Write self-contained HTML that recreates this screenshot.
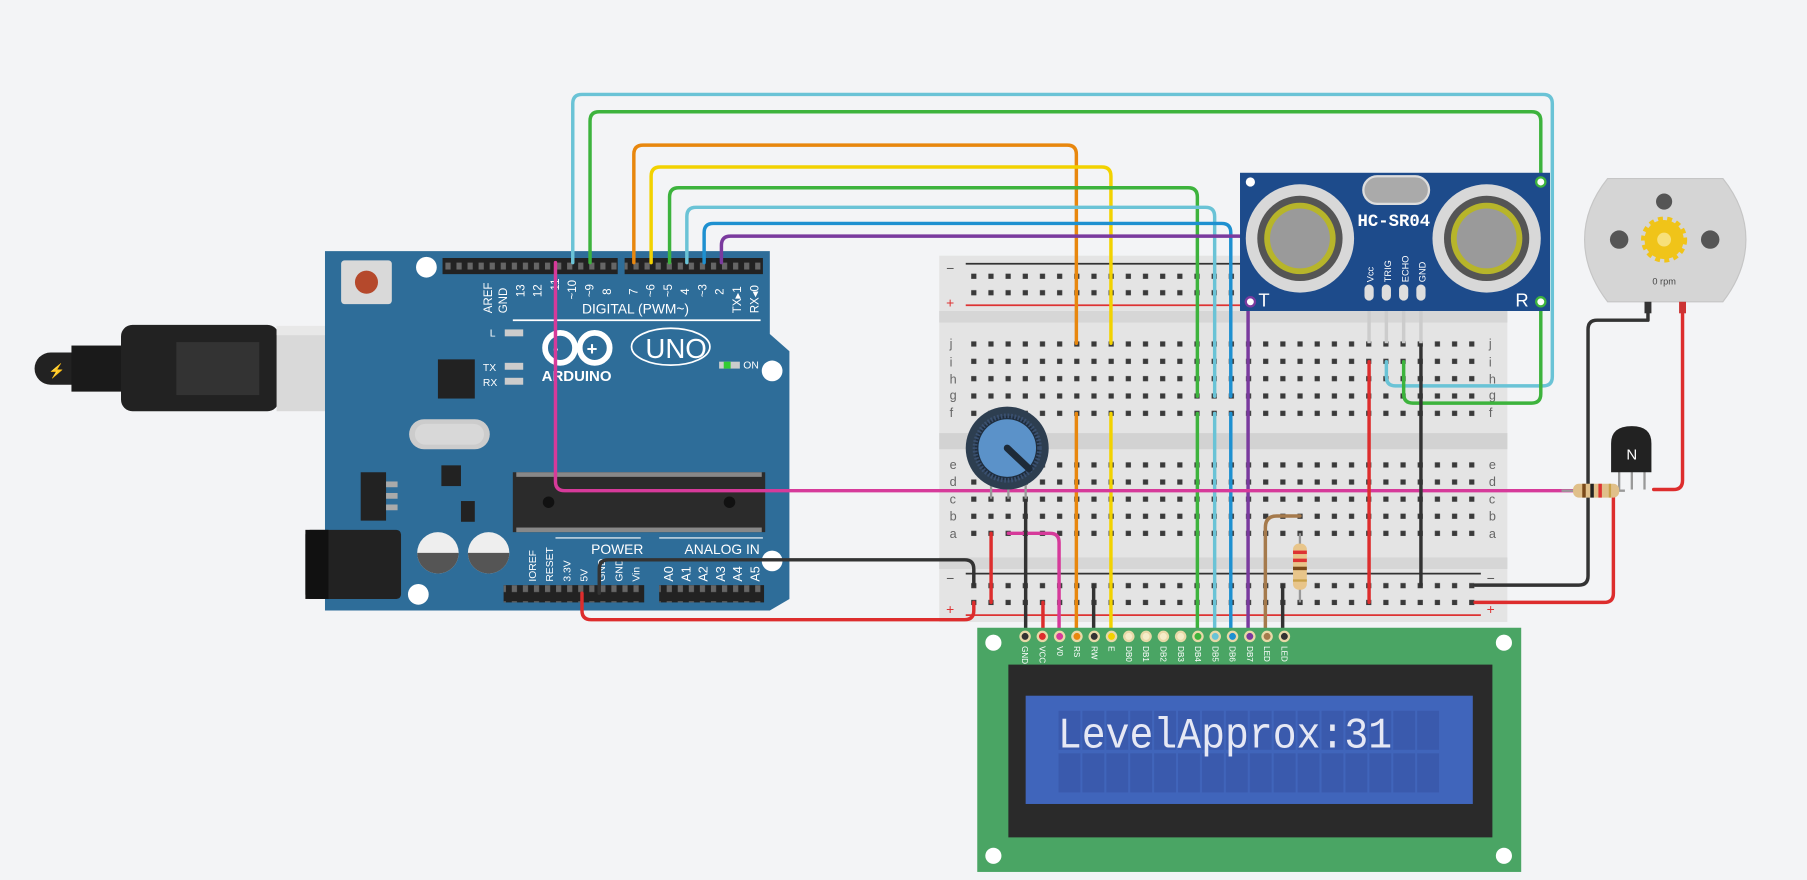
<!DOCTYPE html>
<html><head><meta charset="utf-8"><style>
html,body{margin:0;padding:0;background:#f3f4f6;}
svg{display:block}
text{font-family:"Liberation Sans",sans-serif}
text.mono{font-family:"Liberation Mono",monospace}
</style></head><body>
<svg width="1807" height="880" viewBox="0 0 1568 764" preserveAspectRatio="none" xmlns="http://www.w3.org/2000/svg">
<defs>
<pattern id="holes" x="837.55" y="291.1" width="14.9" height="15.05" patternUnits="userSpaceOnUse">
<rect x="5.2" y="5.3" width="4.5" height="4.5" fill="#3a3a3a"/></pattern>
<pattern id="holes2" x="837.55" y="396.2" width="14.9" height="14.85" patternUnits="userSpaceOnUse">
<rect x="5.2" y="5.2" width="4.5" height="4.5" fill="#3a3a3a"/></pattern>
<pattern id="rail" x="837.55" y="232.6" width="14.9" height="14.3" patternUnits="userSpaceOnUse">
<rect x="5.2" y="5" width="4.5" height="4.5" fill="#3a3a3a"/></pattern>
<pattern id="rail2" x="837.55" y="501.2" width="14.9" height="14.6" patternUnits="userSpaceOnUse">
<rect x="5.2" y="5" width="4.5" height="4.5" fill="#3a3a3a"/></pattern>
<pattern id="hdr" x="384" y="224" width="9.6" height="14" patternUnits="userSpaceOnUse">
<rect x="2.5" y="4" width="4.5" height="6" fill="#666"/></pattern>
<pattern id="cells" x="918" y="617" width="20.75" height="37" patternUnits="userSpaceOnUse">
<rect x="0.5" y="0" width="19" height="34" fill="#3a5aad"/></pattern>
</defs>
<rect width="1568" height="764" fill="#f3f4f6"/>

<!-- USB cable -->
<rect x="30" y="306" width="60" height="28" rx="14" fill="#222"/>
<rect x="62" y="300" width="50" height="40" fill="#1a1a1a"/>
<rect x="105" y="282" width="137" height="75" rx="10" fill="#222"/>
<rect x="153" y="297" width="72" height="46" fill="#333"/>
<rect x="240" y="283" width="100" height="74" fill="#d9d9d9"/>
<rect x="240" y="283" width="100" height="8" fill="#e8e8e8"/>
<text x="42" y="326" font-size="12" fill="#f0c020">⚡</text>

<!-- Arduino -->
<polygon points="282,218 668,218 668,290 685,305 685,520 668,530 282,530" fill="#2e6d99"/>
<rect x="296" y="226" width="44" height="38" rx="3" fill="#d9d9d9"/>
<circle cx="318" cy="245" r="10" fill="#b5492c"/>
<rect x="384" y="224" width="152" height="14" fill="#222"/>
<rect x="384" y="224" width="152" height="14" fill="url(#hdr)"/>
<rect x="542" y="224" width="120" height="14" fill="#222"/>
<rect x="542" y="224" width="120" height="14" fill="url(#hdr)"/>
<rect x="437" y="508" width="122" height="15" fill="#222"/>
<rect x="437" y="508" width="122" height="15" fill="url(#hdr)"/>
<rect x="572" y="508" width="91" height="15" fill="#222"/>
<rect x="572" y="508" width="91" height="15" fill="url(#hdr)"/>
<circle cx="370" cy="232" r="9" fill="#fff"/>
<circle cx="670" cy="322" r="9" fill="#fff"/>
<circle cx="363" cy="516" r="9" fill="#fff"/>
<circle cx="670" cy="487" r="9" fill="#fff"/>
<g fill="#fff" font-size="10">
<text transform="translate(427,272) rotate(-90)">AREF</text>
<text transform="translate(440,272) rotate(-90)">GND</text>
<text transform="translate(455,258) rotate(-90)">13</text>
<text transform="translate(470,258) rotate(-90)">12</text>
<text transform="translate(485,258) rotate(-90)">~11</text>
<text transform="translate(500,260) rotate(-90)">~10</text>
<text transform="translate(515,258) rotate(-90)">~9</text>
<text transform="translate(530,256) rotate(-90)">8</text>
<text transform="translate(553,256) rotate(-90)">7</text>
<text transform="translate(568,258) rotate(-90)">~6</text>
<text transform="translate(583,258) rotate(-90)">~5</text>
<text transform="translate(598,256) rotate(-90)">4</text>
<text transform="translate(613,258) rotate(-90)">~3</text>
<text transform="translate(628,256) rotate(-90)">2</text>
<text transform="translate(643,272) rotate(-90)">TX▸1</text>
<text transform="translate(658,272) rotate(-90)">RX◂0</text>
</g>
<text x="505" y="272" font-size="12" fill="#fff">DIGITAL (PWM~)</text>
<line x1="445" y1="278" x2="660" y2="278" stroke="#fff" stroke-width="1.5"/>
<g fill="none" stroke="#fff" stroke-width="5"><circle cx="486" cy="302" r="13"/><circle cx="516" cy="302" r="13"/></g>
<text x="480" y="307" font-size="14" fill="#fff" font-weight="bold">-</text>
<text x="509" y="308" font-size="16" fill="#fff" font-weight="bold">+</text>
<text x="470" y="331" font-size="13" fill="#fff" font-weight="bold">ARDUINO</text>
<ellipse cx="582" cy="301" rx="34" ry="16" fill="none" stroke="#fff" stroke-width="1.5"/>
<text x="560" y="311" font-size="24" fill="#fff">UNO</text>
<text x="425" y="292" font-size="9" fill="#fff">L</text>
<text x="419" y="322" font-size="9" fill="#fff">TX</text>
<text x="419" y="335" font-size="9" fill="#fff">RX</text>
<rect x="438" y="286" width="16" height="6" fill="#ccc"/>
<rect x="438" y="315" width="16" height="6" fill="#ccc"/>
<rect x="438" y="328" width="16" height="6" fill="#ccc"/>
<rect x="624" y="314" width="18" height="6" fill="#ccc"/>
<rect x="628" y="314" width="6" height="6" fill="#3c3"/>
<text x="645" y="320" font-size="9" fill="#fff">ON</text>
<rect x="380" y="312" width="32" height="34" fill="#222"/>
<rect x="355" y="364" width="70" height="26" rx="13" fill="#ccc"/>
<rect x="360" y="368" width="60" height="18" rx="9" fill="#d8d8d8"/>
<rect x="383" y="404" width="17" height="18" fill="#222"/>
<rect x="313" y="410" width="22" height="42" fill="#222"/>
<rect x="335" y="418" width="10" height="5" fill="#aaa"/><rect x="335" y="428" width="10" height="5" fill="#aaa"/><rect x="335" y="438" width="10" height="5" fill="#aaa"/>
<rect x="400" y="435" width="12" height="18" fill="#222"/>
<rect x="445" y="410" width="219" height="52" fill="#2b2b2b"/>
<circle cx="476" cy="436" r="5" fill="#111"/><circle cx="633" cy="436" r="5" fill="#111"/>
<rect x="448" y="410" width="213" height="4" fill="#888"/><rect x="448" y="458" width="213" height="4" fill="#888"/>
<circle cx="380" cy="480" r="18" fill="#eee"/><path d="M362,480 a18,18 0 0 0 36,0z" fill="#555"/>
<circle cx="424" cy="480" r="18" fill="#eee"/><path d="M406,480 a18,18 0 0 0 36,0z" fill="#555"/>
<rect x="265" y="460" width="83" height="60" rx="4" fill="#222"/>
<rect x="265" y="460" width="20" height="60" fill="#111"/>
<text x="513" y="481" font-size="12" fill="#fff">POWER</text>
<text x="594" y="481" font-size="12" fill="#fff">ANALOG IN</text>
<line x1="482" y1="467" x2="556" y2="467" stroke="#fff"/><line x1="572" y1="467" x2="662" y2="467" stroke="#fff"/>
<g fill="#fff" font-size="9">
<text transform="translate(465,505) rotate(-90)">IOREF</text>
<text transform="translate(480,505) rotate(-90)">RESET</text>
<text transform="translate(495,505) rotate(-90)">3.3V</text>
<text transform="translate(510,505) rotate(-90)">5V</text>
<text transform="translate(525,505) rotate(-90)">GND</text>
<text transform="translate(540,505) rotate(-90)">GND</text>
<text transform="translate(555,505) rotate(-90)">Vin</text>
<text transform="translate(584,505) rotate(-90)" font-size="11">A0</text>
<text transform="translate(599,505) rotate(-90)" font-size="11">A1</text>
<text transform="translate(614,505) rotate(-90)" font-size="11">A2</text>
<text transform="translate(629,505) rotate(-90)" font-size="11">A3</text>
<text transform="translate(644,505) rotate(-90)" font-size="11">A4</text>
<text transform="translate(659,505) rotate(-90)" font-size="11">A5</text>
</g>

<!-- Breadboard -->
<rect x="815" y="222" width="493" height="318" fill="#e4e4e4"/>
<rect x="815" y="270" width="493" height="10" fill="#d6d6d6"/>
<rect x="815" y="376" width="493" height="14" fill="#d2d2d2"/>
<rect x="815" y="484" width="493" height="10" fill="#d6d6d6"/>
<line x1="838" y1="229" x2="1285" y2="229" stroke="#333" stroke-width="1.5"/>
<line x1="838" y1="265" x2="1285" y2="265" stroke="#d33" stroke-width="1.5"/>
<line x1="838" y1="498" x2="1285" y2="498" stroke="#333" stroke-width="1.5"/>
<line x1="838" y1="534" x2="1285" y2="534" stroke="#d33" stroke-width="1.5"/>
<rect x="838" y="233" width="447" height="28" fill="url(#rail)"/>
<rect x="838" y="501" width="447" height="29" fill="url(#rail2)"/>
<rect x="838" y="291" width="447" height="75" fill="url(#holes)"/>
<rect x="838" y="396" width="447" height="75" fill="url(#holes2)"/>
<g font-size="12" fill="#555"><text x="821" y="237">−</text><text x="821" y="267" fill="#d33">+</text>
<text x="821" y="506">−</text><text x="821" y="533" fill="#d33">+</text>
<text x="1290" y="506">−</text><text x="1290" y="533" fill="#d33">+</text></g>
<g font-size="11" fill="#666">
<text x="824" y="302">j</text><text x="824" y="318">i</text><text x="824" y="333">h</text><text x="824" y="347">g</text><text x="824" y="362">f</text>
<text x="824" y="407">e</text><text x="824" y="422">d</text><text x="824" y="437">c</text><text x="824" y="452">b</text><text x="824" y="467">a</text>
<text x="1292" y="302">j</text><text x="1292" y="318">i</text><text x="1292" y="333">h</text><text x="1292" y="347">g</text><text x="1292" y="362">f</text>
<text x="1292" y="407">e</text><text x="1292" y="422">d</text><text x="1292" y="437">c</text><text x="1292" y="452">b</text><text x="1292" y="467">a</text>
</g>

<!-- Wires -->
<g fill="none" stroke-width="3" stroke-linejoin="round" stroke-linecap="round">
<path d="M497,228 V90 Q497,82 505,82 H1339 Q1347,82 1347,90 V327 Q1347,335 1339,335 H1211 Q1203,335 1203,327 V314" stroke="#6ac3d6"/>
<path d="M512,228 V105 Q512,97 520,97 H1329 Q1337,97 1337,105 V342 Q1337,350 1329,350 H1226 Q1218,350 1218,342 V314" stroke="#3db33d"/>
<path d="M550,228 V134 Q550,126 558,126 H926 Q934,126 934,134 V298" stroke="#e8870e"/>
<path d="M565,228 V153 Q565,145 573,145 H956 Q964,145 964,153 V298" stroke="#f2d200"/>
<path d="M581,228 V171 Q581,163 589,163 H1031 Q1039,163 1039,171 V344" stroke="#3db33d"/>
<path d="M596,228 V188 Q596,180 604,180 H1046 Q1054,180 1054,188 V344" stroke="#6ac3d6"/>
<path d="M611,228 V202 Q611,194 619,194 H1060 Q1068,194 1068,202 V344" stroke="#1e90d0"/>
<path d="M626,228 V213 Q626,205 634,205 H1075 Q1083,205 1083,213 V548" stroke="#7a3a9e"/>
<path d="M934,359 V548" stroke="#e8870e"/>
<path d="M964,359 V548" stroke="#f2d200"/>
<path d="M1039,359 V548" stroke="#3db33d"/>
<path d="M1054,359 V548" stroke="#6ac3d6"/>
<path d="M1068,359 V548" stroke="#1e90d0"/>
<path d="M482,228 V418 Q482,426 490,426 H1365" stroke="#d63a9a"/>
<path d="M520,515 V494 Q520,486 528,486 H837 Q845,486 845,494 V508" stroke="#333"/>
<path d="M505,515 V530 Q505,538 513,538 H837 Q845,538 845,530 V523" stroke="#dd2d2d"/>
<path d="M1188,314 V523" stroke="#dd2d2d"/>
<path d="M1233,298 V508" stroke="#333"/>
<path d="M860,463 V523" stroke="#dd2d2d"/>
<path d="M875,463 H911 Q919,463 919,471 V548" stroke="#d63a9a"/>
<path d="M890,433 V548" stroke="#333"/>
<path d="M905,523 V548" stroke="#dd2d2d"/>
<path d="M949,508 V548" stroke="#333"/>
<path d="M1113,508 V548" stroke="#333"/>
<path d="M1098,548 V458 Q1098,448 1108,448 H1128" stroke="#a57a4c"/>
<path d="M1280,508 H1370 Q1378,508 1378,500 V286 Q1378,278 1386,278 H1430 V268" stroke="#333"/>
<path d="M1280,523 H1392 Q1400,523 1400,515 V428" stroke="#dd2d2d"/>
<path d="M1460,268 V417 Q1460,425 1452,425 H1435" stroke="#dd2d2d"/>
</g>
<!-- breadboard resistor -->
<line x1="1128" y1="463" x2="1128" y2="523" stroke="#999" stroke-width="2"/>
<rect x="1122" y="472" width="12" height="40" rx="5" fill="#e8c58a"/>
<rect x="1122" y="478" width="12" height="3" fill="#d33"/><rect x="1122" y="485" width="12" height="3" fill="#d33"/><rect x="1122" y="492" width="12" height="3" fill="#7a4a1a"/><rect x="1122" y="503" width="12" height="2" fill="#c9a24a"/>

<!-- potentiometer -->
<line x1="860" y1="415" x2="860" y2="433" stroke="#999" stroke-width="2"/>
<line x1="875" y1="415" x2="875" y2="433" stroke="#999" stroke-width="2"/>
<line x1="890" y1="415" x2="890" y2="433" stroke="#999" stroke-width="2"/>
<circle cx="874" cy="389" r="36" fill="#2d3e50"/>
<circle cx="874" cy="389" r="28" fill="#1f2d3d" stroke="#3a5070" stroke-dasharray="1.5 1.5" stroke-width="4"/>
<circle cx="874" cy="389" r="25" fill="#5b92c9"/>
<line x1="874" y1="389" x2="893" y2="407" stroke="#1d2a38" stroke-width="6" stroke-linecap="round"/>

<!-- HC-SR04 -->
<line x1="1188" y1="262" x2="1188" y2="298" stroke="#ccc" stroke-width="3"/>
<line x1="1203" y1="262" x2="1203" y2="298" stroke="#ccc" stroke-width="3"/>
<line x1="1218" y1="262" x2="1218" y2="298" stroke="#ccc" stroke-width="3"/>
<line x1="1233" y1="262" x2="1233" y2="298" stroke="#ccc" stroke-width="3"/>
<rect x="1076" y="150" width="269" height="120" fill="#1d4b8b"/>
<rect x="1183" y="153" width="57" height="24" rx="12" fill="#aaa" stroke="#ddd" stroke-width="2"/>
<g>
<circle cx="1128" cy="207" r="47" fill="#d8d8d8"/><circle cx="1128" cy="207" r="37" fill="#555"/><circle cx="1128" cy="207" r="31" fill="#b7b52a"/><circle cx="1128" cy="207" r="26" fill="#9a9a9a"/>
<circle cx="1290" cy="207" r="47" fill="#d8d8d8"/><circle cx="1290" cy="207" r="37" fill="#555"/><circle cx="1290" cy="207" r="31" fill="#b7b52a"/><circle cx="1290" cy="207" r="26" fill="#9a9a9a"/>
</g>
<text class="mono" x="1178" y="196" font-size="15" fill="#fff" font-weight="bold" textLength="63" lengthAdjust="spacingAndGlyphs">HC-SR04</text>
<g fill="#fff" font-size="8"><text transform="translate(1192,245) rotate(-90)">Vcc</text><text transform="translate(1207,245) rotate(-90)">TRIG</text><text transform="translate(1222,245) rotate(-90)">ECHO</text><text transform="translate(1237,245) rotate(-90)">GND</text></g>
<g fill="#ddd"><rect x="1184" y="247" width="8" height="14" rx="4"/><rect x="1199" y="247" width="8" height="14" rx="4"/><rect x="1214" y="247" width="8" height="14" rx="4"/><rect x="1229" y="247" width="8" height="14" rx="4"/></g>
<text x="1092" y="266" font-size="16" fill="#fff">T</text><text x="1315" y="266" font-size="16" fill="#fff">R</text>
<circle cx="1085" cy="262" r="4" fill="#fff" stroke="#7a3a9e" stroke-width="2"/>
<circle cx="1085" cy="158" r="4" fill="#fff"/><circle cx="1337" cy="158" r="4" fill="#fff" stroke="#3db33d" stroke-width="2"/><circle cx="1337" cy="262" r="4" fill="#fff" stroke="#3db33d" stroke-width="2"/>

<!-- Motor -->
<path d="M1395,155 H1495 Q1515,180 1515,208 Q1515,236 1495,262 H1395 Q1375,236 1375,208 Q1375,180 1395,155z" fill="#d5d5d5" stroke="#c5c5c5"/>
<circle cx="1405" cy="208" r="8" fill="#555"/><circle cx="1484" cy="208" r="8" fill="#555"/><circle cx="1444" cy="175" r="7" fill="#555"/>
<circle cx="1444" cy="208" r="17" fill="#f0c419" stroke="#f0c419" stroke-width="6" stroke-dasharray="4 3.5"/>
<circle cx="1444" cy="208" r="6" fill="#f7e07a"/>
<text x="1444" y="247" font-size="8" fill="#444" text-anchor="middle">0 rpm</text>
<rect x="1427" y="262" width="6" height="10" fill="#333"/><rect x="1457" y="262" width="6" height="10" fill="#c33"/>

<!-- Transistor + resistor -->
<line x1="1405" y1="405" x2="1405" y2="425" stroke="#999" stroke-width="2"/>
<line x1="1416" y1="405" x2="1416" y2="425" stroke="#999" stroke-width="2"/>
<line x1="1427" y1="405" x2="1427" y2="425" stroke="#999" stroke-width="2"/>
<path d="M1398,410 V385 Q1398,370 1416,370 Q1433,370 1433,385 V410z" fill="#222"/>
<text x="1416" y="399" font-size="13" fill="#fff" text-anchor="middle">N</text>
<line x1="1355" y1="426" x2="1410" y2="426" stroke="#999" stroke-width="2"/>
<rect x="1365" y="420" width="40" height="12" rx="5" fill="#e0c08a"/>
<rect x="1373" y="420" width="3" height="12" fill="#7a4a1a"/><rect x="1380" y="420" width="3" height="12" fill="#222"/><rect x="1387" y="420" width="3" height="12" fill="#d33"/><rect x="1396" y="420" width="2" height="12" fill="#c9a24a"/>

<!-- LCD -->
<rect x="848" y="545" width="472" height="212" fill="#4aa564"/>
<circle cx="862" cy="558" r="7" fill="#fff"/><circle cx="1305" cy="558" r="7" fill="#fff"/>
<circle cx="862" cy="743" r="7" fill="#fff"/><circle cx="1305" cy="743" r="7" fill="#fff"/>
<g stroke-width="2">
<circle cx="889.5" cy="552.5" r="4" fill="#333" stroke="#e8d9a8"/>
<circle cx="904.5" cy="552.5" r="4" fill="#dd2d2d" stroke="#e8d9a8"/>
<circle cx="919.5" cy="552.5" r="4" fill="#d63a9a" stroke="#e8d9a8"/>
<circle cx="934.5" cy="552.5" r="4" fill="#e8870e" stroke="#e8d9a8"/>
<circle cx="949.5" cy="552.5" r="4" fill="#333" stroke="#e8d9a8"/>
<circle cx="964.5" cy="552.5" r="4" fill="#f2d200" stroke="#e8d9a8"/>
<circle cx="979.5" cy="552.5" r="4" fill="#f5ecc8" stroke="#e8d9a8"/>
<circle cx="994.5" cy="552.5" r="4" fill="#f5ecc8" stroke="#e8d9a8"/>
<circle cx="1009.5" cy="552.5" r="4" fill="#f5ecc8" stroke="#e8d9a8"/>
<circle cx="1024.5" cy="552.5" r="4" fill="#f5ecc8" stroke="#e8d9a8"/>
<circle cx="1039.5" cy="552.5" r="4" fill="#3db33d" stroke="#e8d9a8"/>
<circle cx="1054.5" cy="552.5" r="4" fill="#6ac3d6" stroke="#e8d9a8"/>
<circle cx="1069.5" cy="552.5" r="4" fill="#1e90d0" stroke="#e8d9a8"/>
<circle cx="1084.5" cy="552.5" r="4" fill="#7a3a9e" stroke="#e8d9a8"/>
<circle cx="1099.5" cy="552.5" r="4" fill="#a57a4c" stroke="#e8d9a8"/>
<circle cx="1114.5" cy="552.5" r="4" fill="#333" stroke="#e8d9a8"/>
</g>
<g fill="#fff" font-size="7">
<text transform="translate(887,561) rotate(90)">GND</text><text transform="translate(902,561) rotate(90)">VCC</text><text transform="translate(917,561) rotate(90)">V0</text><text transform="translate(932,561) rotate(90)">RS</text><text transform="translate(947,561) rotate(90)">RW</text><text transform="translate(962,561) rotate(90)">E</text>
<text transform="translate(977,561) rotate(90)">DB0</text><text transform="translate(992,561) rotate(90)">DB1</text><text transform="translate(1007,561) rotate(90)">DB2</text><text transform="translate(1022,561) rotate(90)">DB3</text><text transform="translate(1037,561) rotate(90)">DB4</text><text transform="translate(1052,561) rotate(90)">DB5</text><text transform="translate(1067,561) rotate(90)">DB6</text><text transform="translate(1082,561) rotate(90)">DB7</text><text transform="translate(1097,561) rotate(90)">LED</text><text transform="translate(1112,561) rotate(90)">LED</text>
</g>
<rect x="875" y="577" width="420" height="150" fill="#2a2a2a"/>
<rect x="890" y="604" width="388" height="94" fill="#4065bb"/>
<rect x="918" y="617" width="332" height="71" fill="url(#cells)"/>
<text class="mono" x="918" y="649" font-size="38" fill="#e6e8f4" textLength="290" lengthAdjust="spacingAndGlyphs">LevelApprox:31</text>
</svg>
</body></html>
